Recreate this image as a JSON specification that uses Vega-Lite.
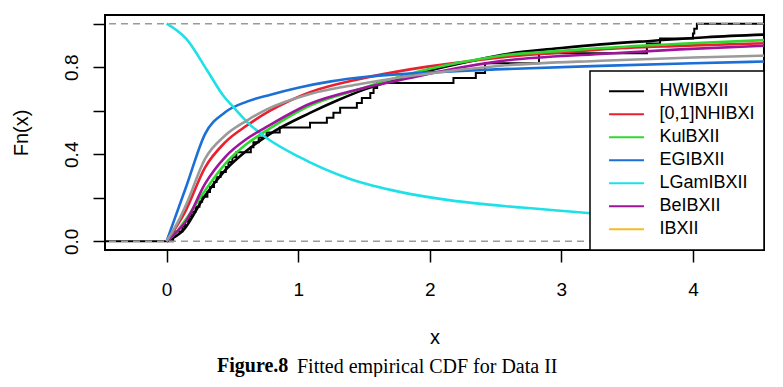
{
  "$schema": "https://vega.github.io/schema/vega-lite/v6.json",
  "padding": {"left": 10, "top": 14, "right": 18, "bottom": 0},
  "background": "white",
  "resolve": {"legend": {"color": "independent"}},
  "title": {
    "text": "Fitted empirical CDF for Data II",
    "orient": "bottom",
    "anchor": "start",
    "frame": "group",
    "dx": 192,
    "offset": -20,
    "font": "Liberation Serif",
    "fontSize": 20,
    "fontWeight": "normal",
    "color": "#000000"
  },
  "datasets": {
    "ecdf": [
      {"x": -0.5, "F": 0},
      {"x": 0.05, "F": 0.023},
      {"x": 0.065, "F": 0.045},
      {"x": 0.12, "F": 0.068},
      {"x": 0.14, "F": 0.091},
      {"x": 0.17, "F": 0.114},
      {"x": 0.19, "F": 0.136},
      {"x": 0.22, "F": 0.159},
      {"x": 0.25, "F": 0.182},
      {"x": 0.27, "F": 0.205},
      {"x": 0.31, "F": 0.227},
      {"x": 0.33, "F": 0.25},
      {"x": 0.36, "F": 0.273},
      {"x": 0.38, "F": 0.295},
      {"x": 0.41, "F": 0.318},
      {"x": 0.45, "F": 0.341},
      {"x": 0.47, "F": 0.364},
      {"x": 0.5, "F": 0.386},
      {"x": 0.53, "F": 0.409},
      {"x": 0.64, "F": 0.432},
      {"x": 0.66, "F": 0.455},
      {"x": 0.7, "F": 0.477},
      {"x": 0.76, "F": 0.5},
      {"x": 0.86, "F": 0.523},
      {"x": 1.09, "F": 0.545},
      {"x": 1.218, "F": 0.568},
      {"x": 1.268, "F": 0.591},
      {"x": 1.319, "F": 0.614},
      {"x": 1.446, "F": 0.636},
      {"x": 1.484, "F": 0.659},
      {"x": 1.548, "F": 0.682},
      {"x": 1.573, "F": 0.705},
      {"x": 1.6, "F": 0.727},
      {"x": 2.18, "F": 0.75},
      {"x": 2.35, "F": 0.773},
      {"x": 2.42, "F": 0.818},
      {"x": 2.83, "F": 0.864},
      {"x": 3.65, "F": 0.909},
      {"x": 3.75, "F": 0.932},
      {"x": 4.0, "F": 0.955},
      {"x": 4.01, "F": 0.977},
      {"x": 4.03, "F": 1},
      {"x": 4.6, "F": 1}
    ],
    "fits": [
      {"model": "HWIBXII", "x": 0, "y": 0},
      {"model": "HWIBXII", "x": 0.126, "y": 0.05},
      {"model": "HWIBXII", "x": 0.293, "y": 0.211},
      {"model": "HWIBXII", "x": 0.445, "y": 0.326},
      {"model": "HWIBXII", "x": 0.61, "y": 0.417},
      {"model": "HWIBXII", "x": 0.787, "y": 0.494},
      {"model": "HWIBXII", "x": 1.09, "y": 0.59},
      {"model": "HWIBXII", "x": 1.3, "y": 0.648},
      {"model": "HWIBXII", "x": 1.5, "y": 0.697},
      {"model": "HWIBXII", "x": 1.75, "y": 0.745},
      {"model": "HWIBXII", "x": 2.0, "y": 0.785},
      {"model": "HWIBXII", "x": 2.3, "y": 0.826},
      {"model": "HWIBXII", "x": 2.6, "y": 0.862},
      {"model": "HWIBXII", "x": 3.0, "y": 0.888},
      {"model": "HWIBXII", "x": 3.3, "y": 0.905},
      {"model": "HWIBXII", "x": 3.7, "y": 0.922},
      {"model": "HWIBXII", "x": 4.1, "y": 0.938},
      {"model": "HWIBXII", "x": 4.6, "y": 0.951},
      {"model": "[0,1]NHIBXI", "x": 0, "y": 0},
      {"model": "[0,1]NHIBXI", "x": 0.14, "y": 0.134},
      {"model": "[0,1]NHIBXI", "x": 0.293, "y": 0.34},
      {"model": "[0,1]NHIBXI", "x": 0.445, "y": 0.455},
      {"model": "[0,1]NHIBXI", "x": 0.61, "y": 0.532},
      {"model": "[0,1]NHIBXI", "x": 0.787, "y": 0.6},
      {"model": "[0,1]NHIBXI", "x": 1.09, "y": 0.685},
      {"model": "[0,1]NHIBXI", "x": 1.47, "y": 0.746},
      {"model": "[0,1]NHIBXI", "x": 1.85, "y": 0.79},
      {"model": "[0,1]NHIBXI", "x": 2.2, "y": 0.82},
      {"model": "[0,1]NHIBXI", "x": 2.54, "y": 0.845},
      {"model": "[0,1]NHIBXI", "x": 3.0, "y": 0.868},
      {"model": "[0,1]NHIBXI", "x": 3.3, "y": 0.882},
      {"model": "[0,1]NHIBXI", "x": 3.9, "y": 0.898},
      {"model": "[0,1]NHIBXI", "x": 4.6, "y": 0.911},
      {"model": "KulBXII", "x": 0, "y": 0},
      {"model": "KulBXII", "x": 0.065, "y": 0.035},
      {"model": "KulBXII", "x": 0.15, "y": 0.104},
      {"model": "KulBXII", "x": 0.293, "y": 0.234},
      {"model": "KulBXII", "x": 0.445, "y": 0.356},
      {"model": "KulBXII", "x": 0.61, "y": 0.448},
      {"model": "KulBXII", "x": 0.75, "y": 0.505},
      {"model": "KulBXII", "x": 1.09, "y": 0.624},
      {"model": "KulBXII", "x": 1.47, "y": 0.7},
      {"model": "KulBXII", "x": 1.85, "y": 0.77},
      {"model": "KulBXII", "x": 2.2, "y": 0.818},
      {"model": "KulBXII", "x": 2.54, "y": 0.853},
      {"model": "KulBXII", "x": 3.0, "y": 0.875},
      {"model": "KulBXII", "x": 3.3, "y": 0.888},
      {"model": "KulBXII", "x": 3.9, "y": 0.908},
      {"model": "KulBXII", "x": 4.6, "y": 0.926},
      {"model": "EGIBXII", "x": 0, "y": 0},
      {"model": "EGIBXII", "x": 0.15, "y": 0.253},
      {"model": "EGIBXII", "x": 0.293, "y": 0.494},
      {"model": "EGIBXII", "x": 0.445, "y": 0.593},
      {"model": "EGIBXII", "x": 0.61, "y": 0.642},
      {"model": "EGIBXII", "x": 0.79, "y": 0.674},
      {"model": "EGIBXII", "x": 1.0, "y": 0.706},
      {"model": "EGIBXII", "x": 1.25, "y": 0.735},
      {"model": "EGIBXII", "x": 1.5, "y": 0.755},
      {"model": "EGIBXII", "x": 1.85, "y": 0.771},
      {"model": "EGIBXII", "x": 2.5, "y": 0.79},
      {"model": "EGIBXII", "x": 3.3, "y": 0.806},
      {"model": "EGIBXII", "x": 4.0, "y": 0.818},
      {"model": "EGIBXII", "x": 4.6, "y": 0.827},
      {"model": "LGamIBXII", "x": 0, "y": 1.0},
      {"model": "LGamIBXII", "x": 0.15, "y": 0.93},
      {"model": "LGamIBXII", "x": 0.31, "y": 0.784},
      {"model": "LGamIBXII", "x": 0.43, "y": 0.67},
      {"model": "LGamIBXII", "x": 0.51, "y": 0.615},
      {"model": "LGamIBXII", "x": 0.635, "y": 0.535},
      {"model": "LGamIBXII", "x": 0.76, "y": 0.475},
      {"model": "LGamIBXII", "x": 1.0, "y": 0.39},
      {"model": "LGamIBXII", "x": 1.4, "y": 0.285},
      {"model": "LGamIBXII", "x": 1.78, "y": 0.226},
      {"model": "LGamIBXII", "x": 2.16, "y": 0.188},
      {"model": "LGamIBXII", "x": 2.7, "y": 0.155},
      {"model": "LGamIBXII", "x": 3.2, "y": 0.13},
      {"model": "LGamIBXII", "x": 3.7, "y": 0.112},
      {"model": "LGamIBXII", "x": 4.2, "y": 0.098},
      {"model": "LGamIBXII", "x": 4.6, "y": 0.09},
      {"model": "BeIBXII", "x": 0, "y": 0},
      {"model": "BeIBXII", "x": 0.05, "y": 0.027},
      {"model": "BeIBXII", "x": 0.15, "y": 0.095},
      {"model": "BeIBXII", "x": 0.293, "y": 0.265},
      {"model": "BeIBXII", "x": 0.445, "y": 0.387},
      {"model": "BeIBXII", "x": 0.61, "y": 0.471},
      {"model": "BeIBXII", "x": 0.75, "y": 0.522},
      {"model": "BeIBXII", "x": 1.09, "y": 0.632},
      {"model": "BeIBXII", "x": 1.47, "y": 0.7},
      {"model": "BeIBXII", "x": 1.85, "y": 0.75},
      {"model": "BeIBXII", "x": 2.2, "y": 0.795},
      {"model": "BeIBXII", "x": 2.54, "y": 0.828},
      {"model": "BeIBXII", "x": 3.3, "y": 0.861},
      {"model": "BeIBXII", "x": 3.9, "y": 0.882},
      {"model": "BeIBXII", "x": 4.6, "y": 0.9}
    ],
    "ibxii": [
      {"x": 0, "y": 0},
      {"x": 0.1, "y": 0.105},
      {"x": 0.15, "y": 0.17},
      {"x": 0.293, "y": 0.38},
      {"x": 0.445, "y": 0.486},
      {"x": 0.61, "y": 0.555},
      {"x": 0.75, "y": 0.603},
      {"x": 1.09, "y": 0.677},
      {"x": 1.47, "y": 0.723},
      {"x": 1.85, "y": 0.76},
      {"x": 2.54, "y": 0.807},
      {"x": 3.3, "y": 0.83},
      {"x": 4.0, "y": 0.845},
      {"x": 4.6, "y": 0.854}
    ],
    "hlines": [{"h": 0}, {"h": 1}]
  },
  "vconcat": [
    {
      "width": 659,
      "height": 235,
      "title": {
        "text": "Figure.8",
        "orient": "bottom",
        "anchor": "start",
        "frame": "group",
        "dx": 112,
        "offset": 9,
        "font": "Liberation Serif",
        "fontSize": 20,
        "fontWeight": "bold",
        "color": "#000000"
      },
      "layer": [
        {
          "data": {"name": "ecdf"},
          "mark": {"type": "line", "interpolate": "step-after", "color": "#000000", "strokeWidth": 2, "clip": true},
          "encoding": {
            "x": {
              "field": "x",
              "type": "quantitative",
              "scale": {"domain": [-0.468, 4.54], "nice": false, "zero": false},
              "axis": {
                "title": "x",
                "values": [0, 1, 2, 3, 4],
                "format": "d",
                "grid": false,
                "domain": false,
                "tickSize": 12,
                "tickWidth": 1.5,
                "tickColor": "#000000",
                "labelFont": "Liberation Sans",
                "labelFontSize": 19,
                "labelColor": "#000000",
                "labelPadding": 18,
                "titleFont": "Liberation Sans",
                "titleFontSize": 20,
                "titleFontWeight": "normal",
                "titleColor": "#000000",
                "titlePadding": 28
              }
            },
            "y": {
              "field": "F",
              "type": "quantitative",
              "scale": {"domain": [-0.04, 1.04], "nice": false, "zero": false},
              "axis": {
                "title": "Fn(x)",
                "values": [0, 0.2, 0.4, 0.6, 0.8, 1],
                "labelExpr": "datum.value == 0 ? '0.0' : (datum.value == 0.4 ? '0.4' : (datum.value == 0.8 ? '0.8' : ''))",
                "grid": false,
                "domain": false,
                "tickSize": 12,
                "tickWidth": 1.5,
                "tickColor": "#000000",
                "labelFont": "Liberation Sans",
                "labelFontSize": 19,
                "labelColor": "#000000",
                "labelAngle": 270,
                "labelAlign": "center",
                "labelBaseline": "alphabetic",
                "labelPadding": 16,
                "titleFont": "Liberation Sans",
                "titleFontSize": 20,
                "titleFontWeight": "normal",
                "titleColor": "#000000",
                "titlePadding": 31
              }
            }
          }
        },
        {
          "data": {"name": "fits"},
          "mark": {"type": "line", "interpolate": "monotone", "strokeWidth": 2.6, "clip": true},
          "encoding": {
            "x": {"field": "x", "type": "quantitative"},
            "y": {"field": "y", "type": "quantitative"},
            "color": {
              "field": "model",
              "type": "nominal",
              "scale": {
                "domain": ["HWIBXII", "[0,1]NHIBXI", "KulBXII", "EGIBXII", "LGamIBXII", "BeIBXII", "IBXII"],
                "range": ["#000000", "#e8212e", "#2fd82f", "#1b6fd6", "#1fe0e6", "#a0149c", "#f0be20"]
              },
              "legend": {
                "title": null,
                "orient": "bottom-right",
                "offset": 0,
                "padding": 9,
                "strokeColor": "#000000",
                "fillColor": "#ffffff",
                "symbolType": "M-0.97,0H0.97",
                "symbolSize": 1296,
                "symbolStrokeWidth": 2,
                "symbolOffset": 8.5,
                "labelOffset": 14,
                "clipHeight": 22.5,
                "rowPadding": 0,
                "labelFont": "Liberation Sans",
                "labelFontSize": 18,
                "labelColor": "#000000",
                "labelLimit": 300
              }
            }
          }
        },
        {
          "data": {"name": "ibxii"},
          "mark": {"type": "line", "interpolate": "monotone", "color": "#9a9a9a", "strokeWidth": 2.6, "clip": true},
          "encoding": {
            "x": {"field": "x", "type": "quantitative"},
            "y": {"field": "y", "type": "quantitative"}
          }
        },
        {
          "data": {"name": "hlines"},
          "mark": {"type": "rule", "color": "#9a9a9a", "strokeWidth": 1.6, "strokeDash": [7, 5]},
          "encoding": {
            "y": {"field": "h", "type": "quantitative"}
          }
        }
      ]
    }
  ],
  "config": {
    "view": {"stroke": "#000000", "strokeWidth": 2},
    "legend": {"strokeWidth": 1.5}
  }
}
